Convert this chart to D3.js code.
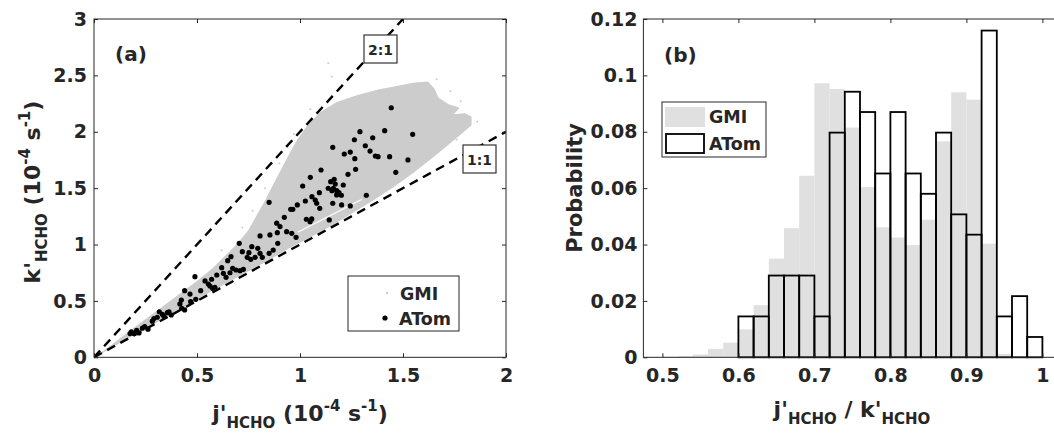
<!DOCTYPE html>
<html>
<head>
<meta charset="utf-8">
<script src="https://cdn.jsdelivr.net/npm/d3@7"></script>
<style>
  body { margin: 0; background: #fff; }
  svg text { font-family: "DejaVu Sans", sans-serif; font-weight: bold; fill: #262626; }
</style>
</head>
<body>
<svg id="chart" width="1054" height="434"></svg>
<script>
// ---------------- data ----------------
// (a) ATom observations: j'HCHO and k'HCHO (1e-4 s^-1)
const atomJ = [1.443,1.291,1.411,1.547,1.264,1.353,1.317,1.340,1.215,1.244,1.266,1.366,1.379,1.435,1.524,1.270,1.465,1.233,1.210,
  1.159,1.102,1.050,1.149,1.166,1.171,1.137,1.162,1.178,1.189,1.201,1.178,1.155,1.013,1.094,1.058,1.074,1.026,1.081,1.096,1.159,1.202,1.244,1.322,
  0.955,0.965,0.987,0.924,1.031,1.057,1.049,1.142,0.887,0.903,
  0.850,0.890,0.854,0.935,0.960,0.981,0.806,0.892,0.705,0.720,0.752,0.766,0.795,0.806,0.817,0.782,0.761,0.744,0.850,0.870,
  0.665,0.649,0.620,0.673,0.689,0.709,0.725,0.660,0.628,0.596,0.641,0.571,0.539,0.490,0.563,0.587,0.576,0.555,
  0.518,0.440,0.466,0.494,0.469,0.424,0.417,0.426,0.440,0.356,0.375,0.364,0.317,0.332,0.340,0.291,0.307,0.283,
  0.246,0.262,0.235,0.207,0.218,0.194,0.175,0.181];
const atomK = [2.213,2.001,2.010,1.977,1.929,1.947,1.876,1.829,1.803,1.820,1.761,1.785,1.779,1.779,1.750,1.667,1.640,1.623,1.528,
  1.862,1.661,1.596,1.557,1.578,1.537,1.499,1.499,1.478,1.460,1.437,1.440,1.478,1.519,1.460,1.424,1.395,1.386,1.366,1.321,1.366,1.351,1.342,1.437,
  1.312,1.312,1.351,1.241,1.224,1.227,1.203,1.218,1.189,1.159,
  1.374,1.105,1.085,1.114,1.099,1.064,1.076,1.011,1.011,0.937,0.928,0.981,0.966,0.922,0.887,0.887,0.869,0.887,0.922,0.951,
  0.892,0.857,0.795,0.789,0.774,0.768,0.780,0.750,0.745,0.730,0.709,0.692,0.677,0.715,0.632,0.621,0.612,0.650,
  0.591,0.591,0.561,0.514,0.493,0.508,0.473,0.435,0.420,0.396,0.375,0.404,0.404,0.381,0.361,0.343,0.355,0.320,
  0.272,0.249,0.258,0.240,0.216,0.210,0.210,0.225];

// (a) GMI model cloud: outline of the dense point region (j', k')
const gmiEdgeJ = [0.03,0.10,0.20,0.30,0.40,0.50,0.58,0.64,0.70,0.75,0.79,0.83,0.87,0.91,0.95,0.99,1.04,1.10,1.18,1.28,1.38,1.47,1.55,1.62,
  1.65,1.67,1.72,1.77,1.74,1.80,1.83,1.83,
  1.76,1.66,1.55,1.45,1.35,1.25,1.15,1.05,0.95,0.85,0.75,0.65,0.55,0.45,0.35,0.25,0.15,0.05];
const gmiEdgeK = [0.03,0.125,0.265,0.40,0.535,0.67,0.79,0.90,1.01,1.12,1.25,1.38,1.52,1.66,1.80,1.93,2.06,2.17,2.26,2.32,2.37,2.40,2.43,2.44,
  2.38,2.30,2.24,2.21,2.15,2.16,2.13,2.06,
  1.95,1.80,1.64,1.51,1.39,1.28,1.17,1.07,0.975,0.87,0.77,0.67,0.57,0.465,0.36,0.26,0.157,0.053];
// (a) GMI scattered points outside the dense region
const gmiSparseJ = [1.137,1.154,1.663,1.05,0.97,0.90,0.83,0.77,0.72,0.62,1.73,1.78,1.86,1.70,1.76];
const gmiSparseK = [2.607,2.488,2.465,2.20,1.98,1.72,1.50,1.30,1.15,0.95,2.36,2.27,2.09,1.87,1.93];
// (a) gap inside the GMI cloud
const gapJ = [0.99,1.30];
const gapK = [1.11,1.40];

// (a) reference ratio lines k' = slope * j'
const ratioSlopes = [2, 1];
const ratioLabels = ["2:1", "1:1"];

// (b) histogram of j'/k': bin left edges (width 0.02) and probabilities
const binEdges = [0.50,0.52,0.54,0.56,0.58,0.60,0.62,0.64,0.66,0.68,0.70,0.72,0.74,0.76,0.78,0.80,0.82,0.84,0.86,0.88,0.90,0.92,0.94,0.96,0.98];
const binWidth = 0.02;
const gmiProb = [0.0002,0.0004,0.0010,0.0030,0.0052,0.0099,0.0185,0.0350,0.0458,0.0644,0.0972,0.0952,0.0815,0.0604,0.0461,0.0425,0.0398,0.0488,0.0766,0.0940,0.0914,0.0403,0.0012,0,0];
const atomProb = [0,0,0,0,0,0.0145,0.0145,0.0290,0.0290,0.0290,0.0145,0.0797,0.0942,0.0870,0.0652,0.0870,0.0652,0.0580,0.0797,0.0507,0.0435,0.1159,0.0145,0.0217,0.0072];

// tick values and labels
const aXTicks = [0, 0.5, 1, 1.5, 2];
const aXLabels = ["0", "0.5", "1", "1.5", "2"];
const aYTicks = [0, 0.5, 1, 1.5, 2, 2.5, 3];
const aYLabels = ["0", "0.5", "1", "1.5", "2", "2.5", "3"];
const bXTicks = [0.5, 0.6, 0.7, 0.8, 0.9, 1.0];
const bXLabels = ["0.5", "0.6", "0.7", "0.8", "0.9", "1"];
const bYTicks = [0, 0.02, 0.04, 0.06, 0.08, 0.10, 0.12];
const bYLabels = ["0", "0.02", "0.04", "0.06", "0.08", "0.1", "0.12"];

// ---------------- drawing ----------------
const svg = d3.select("#chart");
const AXC = "#262626";
const GMI_SCATTER = "#cccccc";
const GMI_BAR = "#e0e0e0";

// scales
const xA = d3.scaleLinear().domain([0, 2]).range([94, 506]);
const yA = d3.scaleLinear().domain([0, 3]).range([357.3, 19]);
const xB = d3.scaleLinear().domain([0.475, 1.025]).range([643.4, 1061.4]);
const yB = d3.scaleLinear().domain([0, 0.12]).range([357.3, 19]);

function drawFrame(x, y, xt, xl, yt, yl, yPad) {
  const [x0, x1] = x.range();
  const [y0, y1] = y.range();
  const g = svg.append("g");
  const fmtX = (d, i) => xl[i];
  const fmtY = (d, i) => yl[i];
  g.append("g").attr("transform", `translate(0,${y0})`)
    .call(d3.axisBottom(x).tickValues(xt).tickFormat(fmtX).tickSizeInner(-4).tickSizeOuter(0).tickPadding(11));
  g.append("g").attr("transform", `translate(0,${y1})`)
    .call(d3.axisTop(x).tickValues(xt).tickFormat("").tickSizeInner(-4).tickSizeOuter(0));
  g.append("g").attr("transform", `translate(${x0},0)`)
    .call(d3.axisLeft(y).tickValues(yt).tickFormat(fmtY).tickSizeInner(-4).tickSizeOuter(0).tickPadding(yPad));
  g.append("g").attr("transform", `translate(${x1},0)`)
    .call(d3.axisRight(y).tickValues(yt).tickFormat("").tickSizeInner(-4).tickSizeOuter(0));
  g.selectAll(".domain").remove();
  g.selectAll(".tick line").attr("stroke", AXC).attr("stroke-width", 1);
  g.selectAll(".tick text").attr("font-size", 19).attr("fill", AXC)
    .attr("font-family", "DejaVu Sans, sans-serif").attr("font-weight", "bold");
  g.append("rect").attr("x", x0).attr("y", y1).attr("width", x1 - x0).attr("height", y0 - y1)
    .attr("fill", "none").attr("stroke", AXC).attr("stroke-width", 1);
  return g;
}

// ===== panel (a) =====
const pa = svg.append("g");
const clipA = svg.append("clipPath").attr("id", "clipA");
clipA.append("rect").attr("x", 94).attr("y", 19).attr("width", 412).attr("height", 338.3);

const plotA = pa.append("g").attr("clip-path", "url(#clipA)");

const cloud = gmiEdgeJ.map((j, i) => [j, gmiEdgeK[i]]);
plotA.append("path")
  .attr("d", d3.line().x(d => xA(d[0])).y(d => yA(d[1])).curve(d3.curveLinearClosed)(cloud))
  .attr("fill", GMI_SCATTER).attr("stroke", GMI_SCATTER).attr("stroke-width", 1.2)
  .attr("stroke-linejoin", "round");

plotA.append("path")
  .attr("d", d3.line().x(d => xA(d[0])).y(d => yA(d[1]))(gapJ.map((j, i) => [j, gapK[i]])))
  .attr("stroke", "#fff").attr("stroke-width", 1.4).attr("fill", "none").attr("opacity", 0.85);

plotA.selectAll("circle.gmi").data(gmiSparseJ.map((j, i) => [j, gmiSparseK[i]])).join("circle")
  .attr("class", "gmi").attr("cx", d => xA(d[0])).attr("cy", d => yA(d[1])).attr("r", 1)
  .attr("fill", GMI_SCATTER);

// ratio lines
ratioSlopes.forEach(s => {
  const jEnd = Math.min(2, 3 / s);
  plotA.append("line")
    .attr("x1", xA(0)).attr("y1", yA(0)).attr("x2", xA(jEnd)).attr("y2", yA(jEnd * s))
    .attr("stroke", "#000").attr("stroke-width", 2.4).attr("stroke-dasharray", "9,6");
});

// ATom points
plotA.selectAll("circle.atom").data(atomJ.map((j, i) => [j, atomK[i]])).join("circle")
  .attr("class", "atom").attr("cx", d => xA(d[0])).attr("cy", d => yA(d[1])).attr("r", 2.6)
  .attr("fill", "#000");

// ratio line labels
const ratioBoxes = [{ x: 364, y: 35 }, { x: 463, y: 145 }];
ratioLabels.forEach((t, i) => {
  const b = ratioBoxes[i];
  pa.append("rect").attr("x", b.x).attr("y", b.y).attr("width", 33).attr("height", 28)
    .attr("fill", "#fff").attr("stroke", "#333").attr("stroke-width", 1.2);
  pa.append("text").attr("x", b.x + 16.5).attr("y", b.y + 19.5).attr("text-anchor", "middle")
    .attr("font-size", 14).attr("fill", "#111").text(t);
});

drawFrame(xA, yA, aXTicks, aXLabels, aYTicks, aYLabels, 7);

// legend (a)
const lga = pa.append("g");
lga.append("rect").attr("x", 348).attr("y", 276).attr("width", 111).attr("height", 55)
  .attr("fill", "#fff").attr("stroke", AXC).attr("stroke-width", 1);
lga.append("circle").attr("cx", 387).attr("cy", 293).attr("r", 1.2).attr("fill", GMI_SCATTER);
lga.append("circle").attr("cx", 385).attr("cy", 318).attr("r", 2.6).attr("fill", "#000");
lga.append("text").attr("x", 400).attr("y", 299.5).attr("font-size", 17.5).attr("fill", "#111").text("GMI");
lga.append("text").attr("x", 399).attr("y", 324.5).attr("font-size", 17.5).attr("fill", "#111").text("ATom");

pa.append("text").attr("x", 115).attr("y", 61).attr("font-size", 20).attr("fill", "#111").text("(a)");

// axis labels (a)
const xlabA = svg.append("text").attr("x", 300).attr("y", 421).attr("text-anchor", "middle").attr("font-size", 22);
xlabA.append("tspan").text("j'");
xlabA.append("tspan").attr("font-size", 15).attr("dy", 7).text("HCHO");
xlabA.append("tspan").attr("dy", -7).text(" (10");
xlabA.append("tspan").attr("font-size", 15).attr("dy", -10).text("-4");
xlabA.append("tspan").attr("dy", 10).text(" s");
xlabA.append("tspan").attr("font-size", 15).attr("dy", -10).text("-1");
xlabA.append("tspan").attr("dy", 10).text(")");

const ylabA = svg.append("text").attr("transform", "translate(40,192) rotate(-90)")
  .attr("text-anchor", "middle").attr("font-size", 22);
ylabA.append("tspan").text("k'");
ylabA.append("tspan").attr("font-size", 15).attr("dy", 7).text("HCHO");
ylabA.append("tspan").attr("dy", -7).text(" (10");
ylabA.append("tspan").attr("font-size", 15).attr("dy", -10).text("-4");
ylabA.append("tspan").attr("dy", 10).text(" s");
ylabA.append("tspan").attr("font-size", 15).attr("dy", -10).text("-1");
ylabA.append("tspan").attr("dy", 10).text(")");

// ===== panel (b) =====
const pb = svg.append("g");
pb.selectAll("rect.gmi").data(binEdges.map((e, i) => [e, gmiProb[i]])).join("rect")
  .attr("class", "gmi")
  .attr("x", d => xB(d[0])).attr("width", d => xB(d[0] + binWidth) - xB(d[0]))
  .attr("y", d => yB(d[1])).attr("height", d => yB(0) - yB(d[1]))
  .attr("fill", GMI_BAR);

pb.selectAll("rect.atom").data(binEdges.map((e, i) => [e, atomProb[i]])).join("rect")
  .attr("class", "atom")
  .attr("x", d => xB(d[0])).attr("width", d => xB(d[0] + binWidth) - xB(d[0]))
  .attr("y", d => yB(d[1])).attr("height", d => yB(0) - yB(d[1]))
  .attr("fill", "none").attr("stroke", "#000").attr("stroke-width", 1.8);

drawFrame(xB, yB, bXTicks, bXLabels, bYTicks, bYLabels, 6);

// legend (b)
const lgb = pb.append("g");
lgb.append("rect").attr("x", 662).attr("y", 102).attr("width", 104).attr("height", 55)
  .attr("fill", "#fff").attr("stroke", AXC).attr("stroke-width", 1);
lgb.append("rect").attr("x", 665).attr("y", 107).attr("width", 40).attr("height", 20).attr("fill", GMI_BAR);
lgb.append("rect").attr("x", 666).attr("y", 134).attr("width", 38).attr("height", 19)
  .attr("fill", "#fff").attr("stroke", "#000").attr("stroke-width", 1.8);
lgb.append("text").attr("x", 709).attr("y", 123).attr("font-size", 17.5).attr("fill", "#111").text("GMI");
lgb.append("text").attr("x", 709).attr("y", 150).attr("font-size", 17.5).attr("fill", "#111").text("ATom");

pb.append("text").attr("x", 664).attr("y", 62).attr("font-size", 20).attr("fill", "#111").text("(b)");

// axis labels (b)
const xlabB = svg.append("text").attr("x", 852).attr("y", 417).attr("text-anchor", "middle").attr("font-size", 22);
xlabB.append("tspan").text("j'");
xlabB.append("tspan").attr("font-size", 15).attr("dy", 7).text("HCHO");
xlabB.append("tspan").attr("dy", -7).text(" / k'");
xlabB.append("tspan").attr("font-size", 15).attr("dy", 7).text("HCHO");

svg.append("text").attr("transform", "translate(582,188) rotate(-90)")
  .attr("text-anchor", "middle").attr("font-size", 21).text("Probability");
</script>
</body>
</html>
